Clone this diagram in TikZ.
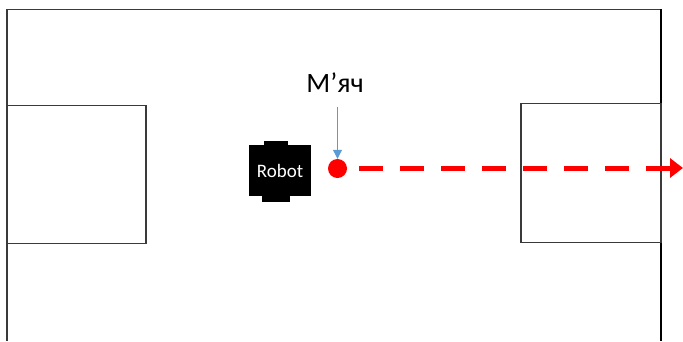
\documentclass[tikz,border=0pt]{standalone}
\usepackage{fontspec}
\setmainfont{Carlito}
\usetikzlibrary{arrows.meta}
\definecolor{framegray}{HTML}{3A3A3A}
\definecolor{pointerblue}{HTML}{5B9BD5}
\definecolor{pathred}{HTML}{FF0000}
\tikzset{
  x=1pt, y=-1pt,
  fieldline/.style={draw=framegray, line width=1.3pt},
  goalbox/.style={fieldline, rectangle, inner sep=0pt},
  robotbody/.style={fill=black, rectangle, inner sep=0pt, minimum width=62pt, minimum height=51pt,
    text=white, font=\fontsize{19}{22}\selectfont},
  ballstyle/.style={circle, fill=pathred, inner sep=0pt, minimum size=19pt},
  pointer/.style={draw=pointerblue, line width=1pt, -{Triangle[length=9pt,width=9pt]}},
  trajectory/.style={draw=pathred, line width=5pt, dash pattern=on 23.5pt off 17.5pt,
    -{Triangle[length=13pt,width=19pt]}},
}
\begin{document}
\begin{tikzpicture}
  \useasboundingbox (0,0) rectangle (683,341);
  % playing field (open at the bottom)
  \draw[fieldline] (7,341) -- (7,9.5) -- (661,9.5);
  \draw[draw=black, line width=2pt] (661,8.9) -- (661,341);
  % goal areas
  \node[goalbox, minimum width=139pt, minimum height=138pt] (leftgoal) at (76.5,174.3) {};
  \node[goalbox, minimum width=140pt, minimum height=139pt] (rightgoal) at (591,172.8) {};
  % robot
  \node[robotbody] (robot) at (280,170.5) {Robot};
  \fill[black] (264,141) rectangle (288,146);
  \fill[black] (262,195) rectangle (290,202);
  % ball and its label
  \node[ballstyle] (ball) at (337.5,168.5) {};
  \node[font=\fontsize{28}{32}\selectfont] (label) at (335,83) {М’яч};
  \coordinate (tail) at (337.5,107);
  \draw[pointer] (tail) -- (ball.north);
  % ball trajectory
  \coordinate (pathstart) at (359,168);
  \coordinate (pathend) at (683,168);
  \draw[trajectory] (pathstart) -- (pathend);
\end{tikzpicture}
\end{document}
